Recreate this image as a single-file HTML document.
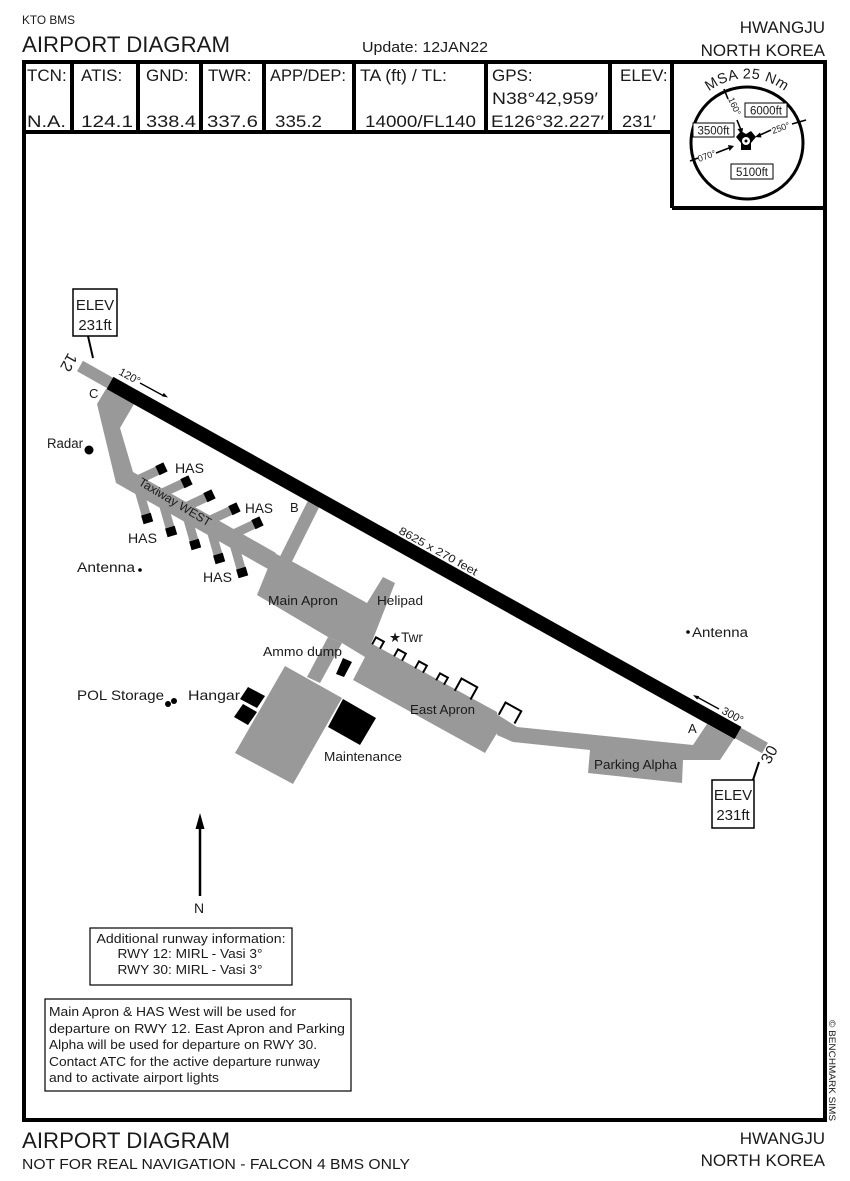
<!DOCTYPE html>
<html><head><meta charset="utf-8"><style>
html,body{margin:0;padding:0;background:#fff;}
svg{display:block;}
text{font-family:"Liberation Sans",sans-serif;fill:#1a1a1a;}
</style></head><body>
<svg width="850" height="1181" viewBox="0 0 850 1181" xmlns="http://www.w3.org/2000/svg">
<rect x="0" y="0" width="850" height="1181" fill="#fff"/>

<!-- Header titles -->
<text x="22" y="24" font-size="12" textLength="53" lengthAdjust="spacingAndGlyphs">KTO BMS</text>
<text x="22" y="52" font-size="22" textLength="208" lengthAdjust="spacingAndGlyphs">AIRPORT DIAGRAM</text>
<text x="362" y="52" font-size="14.5" textLength="126" lengthAdjust="spacingAndGlyphs">Update: 12JAN22</text>
<text x="825" y="33" font-size="17" text-anchor="end">HWANGJU</text>
<text x="825" y="56" font-size="17" text-anchor="end">NORTH KOREA</text>

<!-- Frame -->
<rect x="24" y="62" width="801" height="1058" fill="none" stroke="#000" stroke-width="4"/>
<g stroke="#000" stroke-width="4">
<line x1="72" y1="62" x2="72" y2="132"/>
<line x1="138" y1="62" x2="138" y2="132"/>
<line x1="201" y1="62" x2="201" y2="132"/>
<line x1="264" y1="62" x2="264" y2="132"/>
<line x1="354" y1="62" x2="354" y2="132"/>
<line x1="486" y1="62" x2="486" y2="132"/>
<line x1="610" y1="62" x2="610" y2="132"/>
<line x1="672" y1="62" x2="672" y2="208"/>
<line x1="24" y1="132" x2="672" y2="132"/>
<line x1="672" y1="208" x2="825" y2="208"/>
</g>

<!-- Header cells -->
<g font-size="17">
<text x="27" y="81">TCN:</text>
<text x="81" y="81">ATIS:</text>
<text x="146" y="81">GND:</text>
<text x="208" y="81">TWR:</text>
<text x="270" y="81" textLength="76" lengthAdjust="spacingAndGlyphs">APP/DEP:</text>
<text x="360" y="81" textLength="87" lengthAdjust="spacingAndGlyphs">TA (ft) / TL:</text>
<text x="492" y="81">GPS:</text>
<text x="620" y="81">ELEV:</text>
<text x="492" y="104" textLength="106" lengthAdjust="spacingAndGlyphs">N38°42,959′</text>
<text x="27" y="127" textLength="39" lengthAdjust="spacingAndGlyphs">N.A.</text>
<text x="81" y="127" textLength="52" lengthAdjust="spacingAndGlyphs">124.1</text>
<text x="146" y="127" textLength="50" lengthAdjust="spacingAndGlyphs">338.4</text>
<text x="207" y="127" textLength="51" lengthAdjust="spacingAndGlyphs">337.6</text>
<text x="275" y="127" textLength="47" lengthAdjust="spacingAndGlyphs">335.2</text>
<text x="365" y="127" textLength="111" lengthAdjust="spacingAndGlyphs">14000/FL140</text>
<text x="491" y="127" textLength="113" lengthAdjust="spacingAndGlyphs">E126°32.227′</text>
<text x="622" y="127" textLength="34" lengthAdjust="spacingAndGlyphs">231′</text>
</g>

<!-- MSA -->
<circle cx="747" cy="143" r="56" fill="none" stroke="#000" stroke-width="3"/>
<path id="msaarc" d="M 690 116 A 62 62 0 0 1 804 116" fill="none"/>
<text font-size="14.5"><textPath href="#msaarc" startOffset="50%" text-anchor="middle" letter-spacing="0.5">MSA 25 Nm</textPath></text>
<g stroke="#000" stroke-width="1.6" fill="none">
<line x1="724" y1="89" x2="728" y2="99"/>
<line x1="737" y1="120" x2="741" y2="130"/>
<line x1="806" y1="120" x2="792" y2="124"/>
<line x1="771" y1="130" x2="760" y2="135"/>
<line x1="690" y1="161" x2="698" y2="158"/>
<line x1="716" y1="153" x2="729" y2="148"/>
</g>
<polygon points="742,135 737.5,129 743,128" fill="#000"/>
<polygon points="755,137 760,132.5 761.5,137.5" fill="#000"/>
<polygon points="734,146 728,145 729.5,151" fill="#000"/>
<text font-size="9" fill="#555" transform="translate(728,99) rotate(66)">160°</text>
<text font-size="9" fill="#555" transform="translate(773,134) rotate(-20)">250°</text>
<text font-size="9" fill="#555" transform="translate(699,162) rotate(-20)">070°</text>
<polygon points="736,137 741,131 746,134 751,131 756,137 751,143 751,150 741,150 741,143" fill="#000"/>
<circle cx="746" cy="141" r="4" fill="#fff"/>
<circle cx="746" cy="141" r="1.5" fill="#000"/>
<g fill="#fff" stroke="#000" stroke-width="1">
<rect x="745" y="103" width="42" height="14"/>
<rect x="693" y="123" width="41" height="14"/>
<rect x="731" y="164" width="42" height="15"/>
</g>
<g font-size="11.5" text-anchor="middle">
<text x="766" y="114.5">6000ft</text>
<text x="713.5" y="134.5">3500ft</text>
<text x="752" y="176">5100ft</text>
</g>

<!-- Airport gray surfaces -->
<g fill="#999">
<polygon points="106,389 134,404 120,428 133,472 276,553 268,569 116,483 97,404"/>
<polygon points="274,553 257,595 328,637 342,643 365,657 373,639 395,583 383,577 367,603 295,563"/>
<polygon points="367,641 497,712 497,733 485,753 353,680 365,657"/>
<polygon points="328,637 342,643 320,683 307,677"/>
<polygon points="285,666 342,698 293,784 235,753"/>
<polygon points="495,713 517,727 693,745 707,724 734,739 720,760 683,760 682,783 588,773 590,750 513,742 497,735"/>
</g>
<g stroke="#999" stroke-width="13">
<line x1="316" y1="499" x2="284" y2="563"/>
</g>
<g stroke="#999" stroke-width="9">
<line x1="132.6" y1="482.3" x2="161" y2="469"/>
<line x1="156.5" y1="495.7" x2="186" y2="482"/>
<line x1="180.5" y1="509.3" x2="209" y2="496"/>
<line x1="204.4" y1="522.8" x2="234" y2="509"/>
<line x1="228.5" y1="536.3" x2="257" y2="523"/>
<line x1="137.5" y1="485" x2="147" y2="518"/>
<line x1="161.7" y1="498.6" x2="171" y2="531"/>
<line x1="185.9" y1="512.4" x2="195" y2="544"/>
<line x1="209.8" y1="525.8" x2="219" y2="558"/>
<line x1="232.4" y1="538.6" x2="242" y2="572"/>
</g>
<g stroke="#000" stroke-width="10">
<line x1="157.4" y1="470.7" x2="165.5" y2="466.9"/>
<line x1="182.4" y1="483.7" x2="190.5" y2="479.9"/>
<line x1="205.4" y1="497.7" x2="213.5" y2="493.9"/>
<line x1="230.4" y1="510.7" x2="238.5" y2="506.9"/>
<line x1="253.4" y1="524.7" x2="261.5" y2="520.9"/>
<line x1="145.9" y1="514.2" x2="148.4" y2="522.8"/>
<line x1="169.9" y1="527.2" x2="172.4" y2="535.8"/>
<line x1="193.9" y1="540.2" x2="196.4" y2="548.8"/>
<line x1="217.9" y1="554.2" x2="220.4" y2="562.8"/>
<line x1="240.9" y1="568.2" x2="243.4" y2="576.8"/>
</g>

<!-- Runway -->
<line x1="80" y1="366" x2="111" y2="383.5" stroke="#999" stroke-width="12"/>
<line x1="737" y1="732.5" x2="765" y2="748" stroke="#999" stroke-width="12"/>
<line x1="110" y1="383" x2="738" y2="733" stroke="#000" stroke-width="14"/>

<!-- Notch outlines along East Apron -->
<g fill="none" stroke="#000" stroke-width="2">
<path d="M -4.5 4 L -4.5 -4 L 4.5 -4 L 4.5 4" transform="translate(378,643) rotate(29)"/>
<path d="M -4.5 4 L -4.5 -4 L 4.5 -4 L 4.5 4" transform="translate(400,655) rotate(29)"/>
<path d="M -4.5 4 L -4.5 -4 L 4.5 -4 L 4.5 4" transform="translate(421,667) rotate(29)"/>
<path d="M -4.5 4 L -4.5 -4 L 4.5 -4 L 4.5 4" transform="translate(442,679) rotate(29)"/>
<path d="M -9 7 L -9 -7 L 9 -7 L 9 7" transform="translate(466,689) rotate(29)"/>
<path d="M -9 7 L -9 -7 L 9 -7 L 9 7" transform="translate(510,713) rotate(29)"/>
</g>

<!-- Black buildings -->
<g fill="#000">
<polygon points="343,658 352,662 344,677 336,674"/>
<polygon points="248,687 265,696 257,708 240,699"/>
<polygon points="243,704 257,712 248,725 234,717"/>
<polygon points="343,699 376,718 360,745 328,727"/>
<circle cx="89" cy="450" r="4.5"/>
<circle cx="140" cy="570" r="1.8"/>
<circle cx="688" cy="632" r="1.8"/>
<circle cx="168" cy="704" r="3"/>
<circle cx="174" cy="701" r="3"/>
</g>

<!-- ELEV boxes -->
<line x1="88" y1="336" x2="93" y2="358" stroke="#000" stroke-width="2"/>
<rect x="73" y="289" width="44" height="47" fill="#fff" stroke="#000" stroke-width="1.5"/>
<text x="95" y="310" font-size="15" text-anchor="middle">ELEV</text>
<text x="95" y="330" font-size="15" text-anchor="middle">231ft</text>
<line x1="753" y1="780" x2="759" y2="762" stroke="#000" stroke-width="2"/>
<rect x="712" y="780" width="42" height="48" fill="#fff" stroke="#000" stroke-width="1.5"/>
<text x="733" y="800" font-size="15" text-anchor="middle">ELEV</text>
<text x="733" y="820" font-size="15" text-anchor="middle">231ft</text>

<!-- Runway numbers & arrows -->
<text font-size="16" text-anchor="middle" dominant-baseline="central" transform="translate(68,362) rotate(119)">12</text>
<text font-size="16" text-anchor="middle" dominant-baseline="central" transform="translate(770,755) rotate(-61)">30</text>
<text font-size="11" fill="#333" transform="translate(118,374) rotate(29)">120°</text>
<line x1="140" y1="383" x2="163" y2="395.5" stroke="#000" stroke-width="1.3"/>
<polygon points="168,397.5 161.8,396.3 163.8,392.9" fill="#000"/>
<text font-size="11" fill="#333" transform="translate(721,713) rotate(29)">300°</text>
<line x1="697" y1="697" x2="719" y2="709" stroke="#000" stroke-width="1.3"/>
<polygon points="693,695 697.2,699.6 699.2,696.2" fill="#000"/>
<text font-size="11" fill="#333" transform="translate(398,533) rotate(29)" textLength="88" lengthAdjust="spacingAndGlyphs">8625 x 270 feet</text>

<!-- Labels -->
<g font-size="13.5" fill="#222">
<text x="89" y="398" font-size="13">C</text>
<text x="290" y="512" font-size="13">B</text>
<text x="688" y="733" font-size="13">A</text>
<text x="47" y="448" textLength="36" lengthAdjust="spacingAndGlyphs">Radar</text>
<text x="77" y="572" textLength="58" lengthAdjust="spacingAndGlyphs">Antenna</text>
<text x="692" y="637" textLength="56" lengthAdjust="spacingAndGlyphs">Antenna</text>
<text x="175" y="473" font-size="14" textLength="29" lengthAdjust="spacingAndGlyphs">HAS</text>
<text x="245" y="513" font-size="14" textLength="28" lengthAdjust="spacingAndGlyphs">HAS</text>
<text x="128" y="543" font-size="14" textLength="29" lengthAdjust="spacingAndGlyphs">HAS</text>
<text x="203" y="582" font-size="14" textLength="29" lengthAdjust="spacingAndGlyphs">HAS</text>
<text font-size="12" text-anchor="middle" dominant-baseline="central" transform="translate(175,502) rotate(31)" textLength="82" lengthAdjust="spacingAndGlyphs">Taxiway WEST</text>
<text x="268" y="605" font-size="13" textLength="70" lengthAdjust="spacingAndGlyphs">Main Apron</text>
<text x="377" y="605" font-size="13" textLength="46" lengthAdjust="spacingAndGlyphs">Helipad</text>
<text x="389" y="642" font-size="13.5">★Twr</text>
<text x="263" y="656" font-size="13" textLength="79" lengthAdjust="spacingAndGlyphs">Ammo dump</text>
<text x="410" y="714" font-size="13" textLength="65" lengthAdjust="spacingAndGlyphs">East Apron</text>
<text x="324" y="761" font-size="13" textLength="78" lengthAdjust="spacingAndGlyphs">Maintenance</text>
<text x="188" y="700" font-size="14" textLength="52" lengthAdjust="spacingAndGlyphs">Hangar</text>
<text x="77" y="700" font-size="14" textLength="87" lengthAdjust="spacingAndGlyphs">POL Storage</text>
<text x="594" y="769" font-size="13" textLength="83" lengthAdjust="spacingAndGlyphs">Parking Alpha</text>
</g>

<!-- North arrow -->
<line x1="200" y1="896" x2="200" y2="826" stroke="#000" stroke-width="2.5"/>
<polygon points="200,813 195.5,829 204.5,829" fill="#000"/>
<text x="199" y="913" font-size="14" text-anchor="middle">N</text>

<!-- Info boxes -->
<rect x="90" y="928" width="202" height="57" fill="none" stroke="#000" stroke-width="1.2"/>
<g font-size="13" text-anchor="middle" fill="#333">
<text x="191" y="943" textLength="189" lengthAdjust="spacingAndGlyphs">Additional runway information:</text>
<text x="190" y="958" textLength="145" lengthAdjust="spacingAndGlyphs">RWY 12: MIRL - Vasi 3°</text>
<text x="190" y="974" textLength="145" lengthAdjust="spacingAndGlyphs">RWY 30: MIRL - Vasi 3°</text>
</g>
<rect x="45" y="999" width="306" height="92" fill="none" stroke="#000" stroke-width="1.2"/>
<g font-size="13" fill="#333">
<text x="49" y="1016" textLength="247" lengthAdjust="spacingAndGlyphs">Main Apron &amp; HAS West will be used for</text>
<text x="49" y="1033" textLength="296" lengthAdjust="spacingAndGlyphs">departure on RWY 12. East Apron and Parking</text>
<text x="49" y="1049" textLength="268" lengthAdjust="spacingAndGlyphs">Alpha will be used for departure on RWY 30.</text>
<text x="49" y="1066" textLength="271" lengthAdjust="spacingAndGlyphs">Contact ATC for the active departure runway</text>
<text x="49" y="1082" textLength="170" lengthAdjust="spacingAndGlyphs">and to activate airport lights</text>
</g>

<!-- Copyright -->
<text font-size="9" fill="#333" transform="translate(829,1020) rotate(90)" textLength="101" lengthAdjust="spacingAndGlyphs">© BENCHMARK SIMS</text>

<!-- Footer -->
<text x="22" y="1148" font-size="22" textLength="208" lengthAdjust="spacingAndGlyphs">AIRPORT DIAGRAM</text>
<text x="22" y="1169" font-size="14.5" textLength="388" lengthAdjust="spacingAndGlyphs">NOT FOR REAL NAVIGATION - FALCON 4 BMS ONLY</text>
<text x="825" y="1144" font-size="17" text-anchor="end">HWANGJU</text>
<text x="825" y="1166" font-size="17" text-anchor="end">NORTH KOREA</text>
</svg>
</body></html>
